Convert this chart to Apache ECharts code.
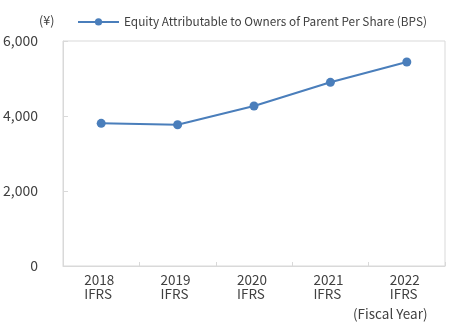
<!DOCTYPE html>
<html><head><meta charset="utf-8">
<script src="https://cdn.jsdelivr.net/npm/echarts@6/dist/echarts.min.js"></script>
<style>html,body{margin:0;padding:0;background:#fff}#c{width:455px;height:330px}</style>
</head><body><div id="c"></div>
<script>
const years = ['2018', '2019', '2020', '2021', '2022'];
const standards = ['IFRS', 'IFRS', 'IFRS', 'IFRS', 'IFRS'];
const bps = [3805, 3768, 4267, 4898, 5440];
const seriesName = 'Equity Attributable to Owners of Parent Per Share (BPS)';
const yTicks = [0, 2000, 4000, 6000];

const font = "'Noto Sans CJK JP', 'Noto Sans', sans-serif";
const categories = years.map((y, i) => y + '\n' + standards[i]);
const chart = echarts.init(document.getElementById('c'));
chart.setOption({
  animation: false,
  textStyle: { fontFamily: font },
  grid: { left: 63, right: 10, top: 41, bottom: 64, show: true, borderColor: '#d9d9d9', borderWidth: 1 },
  legend: {
    left: 72, top: 11, itemWidth: 41, itemHeight: 9, itemGap: 4,
    textStyle: { fontSize: 11.8, color: '#404040', fontFamily: font },
    data: [seriesName]
  },
  xAxis: {
    type: 'category', data: categories, boundaryGap: true,
    axisLine: { lineStyle: { color: '#d9d9d9' } },
    axisTick: { show: true, inside: true, length: 4, lineStyle: { color: '#d9d9d9' } },
    axisLabel: {
      margin: 7, color: '#404040', fontSize: 13.5, fontFamily: font, lineHeight: 14,
      formatter: v => v.split('\n').map(s => '{a|' + s + '}').join('\n'),
      rich: { a: { width: 34, align: 'left', fontSize: 13.5, lineHeight: 14, color: '#404040', fontFamily: font } }
    }
  },
  yAxis: {
    type: 'value', min: yTicks[0], max: yTicks[yTicks.length - 1], interval: 2000,
    axisLine: { show: true, lineStyle: { color: '#d9d9d9' } },
    axisTick: { show: true, inside: true, length: 5, lineStyle: { color: '#d9d9d9' } },
    splitLine: { show: false },
    axisLabel: { margin: 25, color: '#404040', fontSize: 14, fontFamily: font, padding: [3, 0, 0, 0],
      formatter: v => v.toLocaleString('en-US') }
  },
  graphic: [
    { type: 'text', left: 39, top: 14, style: { text: '(¥)', fontSize: 12.5, fill: '#404040', fontFamily: font } },
    { type: 'text', left: 353, top: 307, style: { text: '(Fiscal Year)', fontSize: 13.5, fill: '#404040', fontFamily: font } }
  ],
  series: [{
    name: seriesName, type: 'line', data: bps,
    symbol: 'circle', symbolSize: 9,
    lineStyle: { color: '#4a7ebb', width: 2 },
    itemStyle: { color: '#4a7ebb' }
  }]
});
</script></body></html>
